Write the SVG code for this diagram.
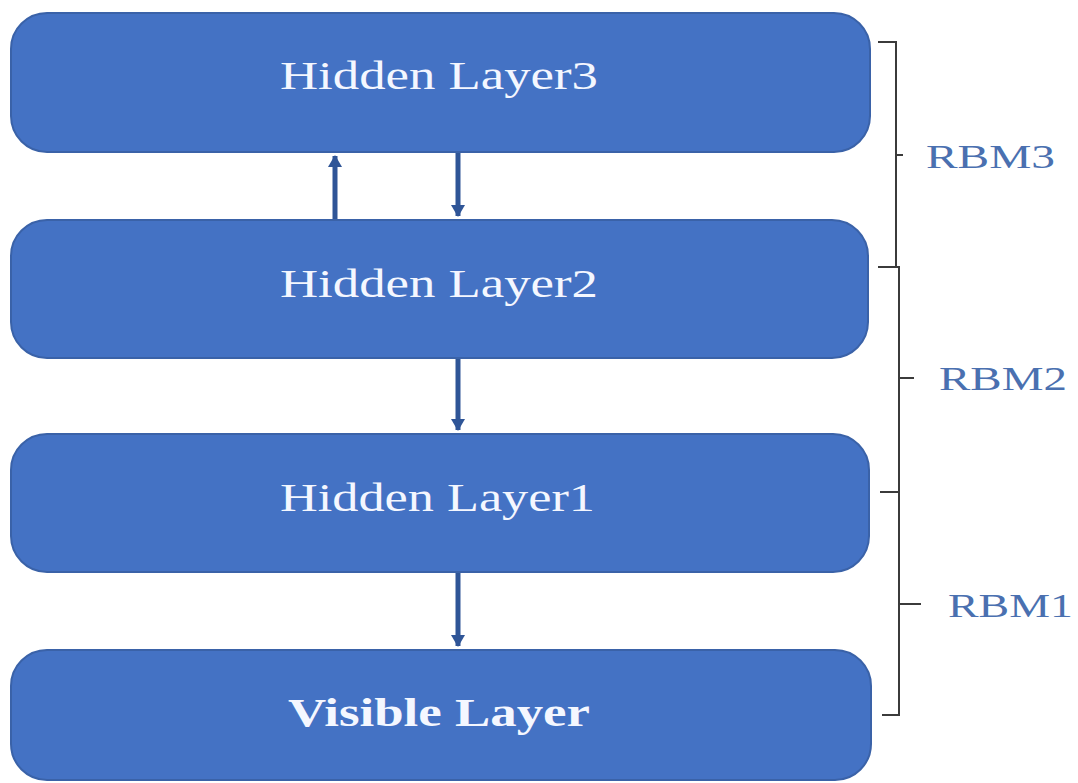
<svg xmlns="http://www.w3.org/2000/svg" width="1078" height="783" viewBox="0 0 1078 783">
  <style>
    .layer { fill: #4472c4; stroke: #3a62a8; stroke-width: 2; }
    .lbl { font-family: "Liberation Serif", "Times New Roman", serif; font-size: 40px; fill: #f4f7ff; }
    .bold { font-weight: bold; }
    .link { stroke: #2f5597; stroke-width: 5; fill: none; }
    .brace { stroke: #3b3b3b; stroke-width: 2; fill: none; }
    .rbm { font-family: "Liberation Serif", "Times New Roman", serif; font-size: 33px; fill: #4a70b0; }
  </style>
  <defs>
    <marker id="head" markerWidth="4" markerHeight="4" refX="2.2" refY="2" orient="auto" markerUnits="strokeWidth">
      <path d="M0,0.6 L2.4,2 L0,3.4 Z" fill="#2f5597"/>
    </marker>
  </defs>
  <rect width="1078" height="783" fill="#ffffff"/>

  <!-- layers -->
  <g id="hidden3">
    <rect class="layer" x="11" y="13" width="859" height="139" rx="36"/>
    <text class="lbl" x="280" y="89" textLength="318" lengthAdjust="spacingAndGlyphs">Hidden Layer3</text>
  </g>
  <g id="hidden2">
    <rect class="layer" x="11" y="220" width="857" height="138" rx="36"/>
    <text class="lbl" x="280" y="297" textLength="318" lengthAdjust="spacingAndGlyphs">Hidden Layer2</text>
  </g>
  <g id="hidden1">
    <rect class="layer" x="11" y="434" width="858" height="138" rx="36"/>
    <text class="lbl" x="280" y="511" textLength="315" lengthAdjust="spacingAndGlyphs">Hidden Layer1</text>
  </g>
  <g id="visible">
    <rect class="layer" x="11" y="650" width="860" height="130" rx="36"/>
    <text class="lbl bold" x="288" y="726" textLength="302" lengthAdjust="spacingAndGlyphs">Visible Layer</text>
  </g>

  <!-- connectors between layers -->
  <g id="connectors">
    <line class="link" x1="335" y1="219" x2="335" y2="156" marker-end="url(#head)"/>
    <line class="link" x1="458" y1="153" x2="458" y2="216" marker-end="url(#head)"/>
    <line class="link" x1="458" y1="359" x2="458" y2="430" marker-end="url(#head)"/>
    <line class="link" x1="458" y1="573" x2="458" y2="646" marker-end="url(#head)"/>
  </g>

  <!-- RBM braces -->
  <g id="rbm3">
    <path class="brace" d="M878,42 H896 V267 H878 M896,155 H903"/>
    <text class="rbm" x="926" y="168" textLength="129" lengthAdjust="spacingAndGlyphs">RBM3</text>
  </g>
  <g id="rbm2">
    <path class="brace" d="M880,267 H899 V492 H880 M899,378 H914"/>
    <text class="rbm" x="939" y="390" textLength="128" lengthAdjust="spacingAndGlyphs">RBM2</text>
  </g>
  <g id="rbm1">
    <path class="brace" d="M880,492 H899 V715 H882 M899,604 H921"/>
    <text class="rbm" x="948" y="617" textLength="125" lengthAdjust="spacingAndGlyphs">RBM1</text>
  </g>
</svg>
